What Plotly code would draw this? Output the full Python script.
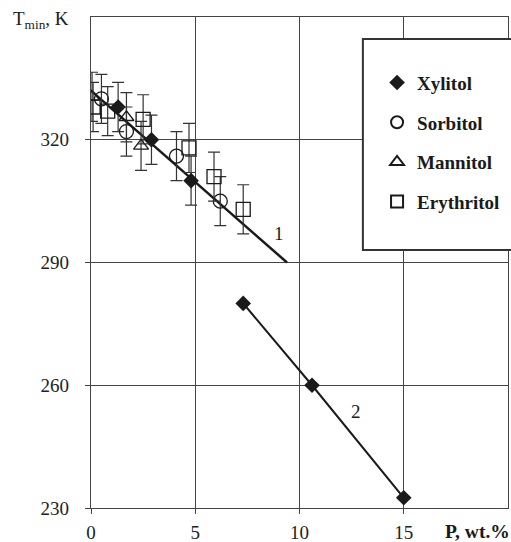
import plotly.graph_objects as go

# ---- data ----
xyl_x = [1.3, 2.9, 4.8]
xyl_y = [328, 320, 310]
xyl2_x = [7.3, 10.6, 15.0]
xyl2_y = [280, 260, 232.5]
sor_x = [0.5, 1.7, 4.1, 6.2]
sor_y = [330, 322, 316, 305]
man_x = [0.05, 1.7, 2.4]
man_y = [330.5, 325.5, 318.5]
ery_x = [0.1, 0.8, 2.5, 4.7, 5.9, 7.3]
ery_y = [328, 327, 325, 318, 311, 303]
err = 6
fit1_x = [0, 9.4]
fit1_y = [332, 290]
x_ticks = [0, 5, 10, 15]
y_ticks = [230, 260, 290, 320]

FONT = "Liberation Serif"
INK = "#1a1a1a"
GRID = "#444444"

eb = dict(type="constant", value=err, color="#333333", thickness=1.2, width=6)

fig = go.Figure()
fig.add_trace(go.Scatter(x=fit1_x, y=fit1_y, mode="lines", line=dict(color=INK, width=2.5),
                         showlegend=False, hoverinfo="skip"))
fig.add_trace(go.Scatter(x=xyl2_x, y=xyl2_y, mode="lines+markers",
                         line=dict(color=INK, width=2),
                         marker=dict(symbol="diamond", size=12, color=INK),
                         showlegend=False))
fig.add_trace(go.Scatter(x=xyl_x, y=xyl_y, mode="markers", name="Xylitol", legendgroup="a",
                         error_y=eb,
                         marker=dict(symbol="diamond", size=12, color=INK)))
fig.add_trace(go.Scatter(x=sor_x, y=sor_y, mode="markers", name="Sorbitol", legendgroup="b",
                         error_y=eb,
                         marker=dict(symbol="circle-open", size=14, color=INK, line=dict(width=1.3))))
fig.add_trace(go.Scatter(x=man_x, y=man_y, mode="markers", name="Mannitol", legendgroup="c",
                         error_y=eb,
                         marker=dict(symbol="triangle-up-open", size=13, color=INK, line=dict(width=1.3))))
fig.add_trace(go.Scatter(x=ery_x, y=ery_y, mode="markers", name="Erythritol", legendgroup="d",
                         error_y=eb,
                         marker=dict(symbol="square-open", size=14, color=INK, line=dict(width=1.3))))

axis_common = dict(showgrid=True, gridcolor=GRID, gridwidth=1, showline=True, linecolor=GRID,
                   linewidth=1.2, mirror=True, ticks="outside", ticklen=5, tickcolor=GRID,
                   zeroline=False, automargin=False,
                   tickfont=dict(family=FONT, size=19, color="#222222"))

fig.update_layout(
    width=511, height=542,
    margin=dict(l=91, r=3, t=17, b=34),
    paper_bgcolor="white", plot_bgcolor="white",
    xaxis=dict(range=[0, 20], tickvals=x_ticks, ticklabelstandoff=2, **axis_common),
    yaxis=dict(range=[230, 350], tickvals=y_ticks, ticklabelstandoff=12, **axis_common),
    legend=dict(x=0.686, y=0.905, xanchor="left", yanchor="top", bgcolor="rgba(0,0,0,0)",
                borderwidth=0, tracegroupgap=12, itemsizing="constant",
                font=dict(family=FONT, size=19, color=INK, weight="bold")),
    shapes=[dict(type="rect", xref="paper", yref="paper", x0=0.652, x1=1.01, y0=0.5255, y1=0.955,
                 line=dict(color="#333333", width=2), fillcolor="white", layer="above")],
    annotations=[
        dict(x=9.0, y=297, xref="x", yref="y", text="1", showarrow=False,
             font=dict(family=FONT, size=19, color=INK)),
        dict(x=12.7, y=253.5, xref="x", yref="y", text="2", showarrow=False,
             font=dict(family=FONT, size=19, color=INK)),
        dict(x=1.01, y=-0.048, xref="paper", yref="paper", xanchor="right", yanchor="middle",
             text="<b>P, wt.%</b>", showarrow=False,
             font=dict(family=FONT, size=19.5, color=INK)),
        dict(x=-0.193, y=0.993, xref="paper", yref="paper", xanchor="left", yanchor="middle",
             text="T<sub>min</sub>, K", showarrow=False,
             font=dict(family=FONT, size=19, color=INK)),
    ],
)

fig.write_html("out.html", config={"displayModeBar": False},
               post_script="document.body.style.margin='0';document.body.style.overflow='hidden';")
